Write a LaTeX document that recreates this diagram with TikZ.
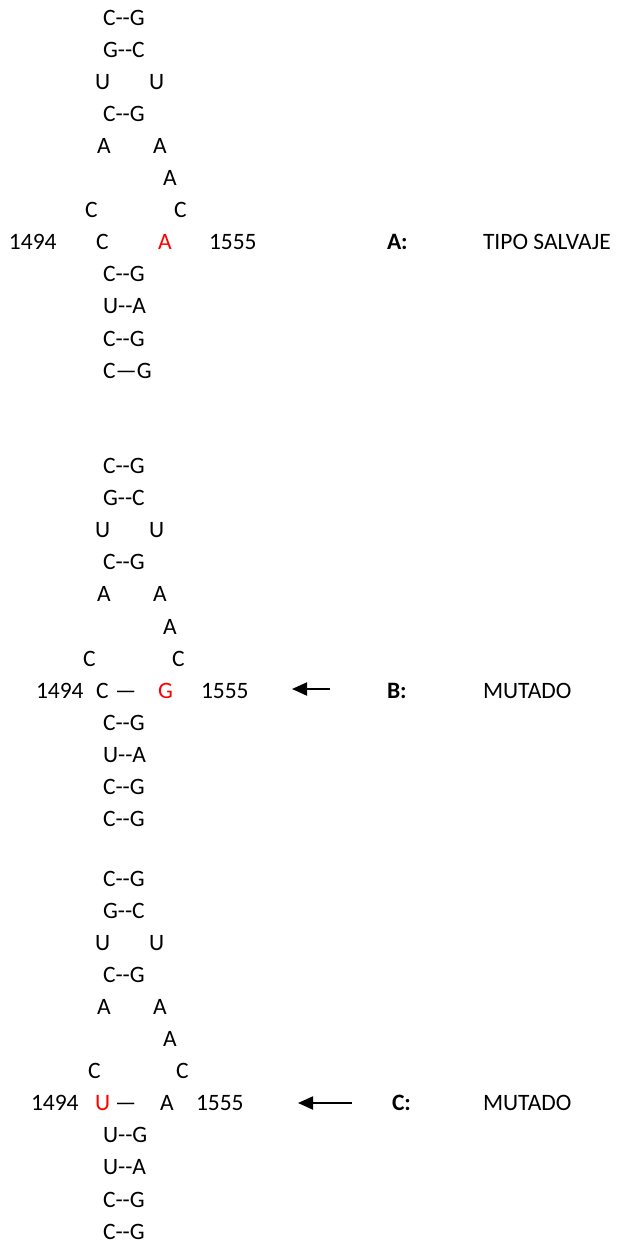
\documentclass[tikz,border=0pt]{standalone}
\usepackage{fontspec}
\setmainfont{Carlito}
\usetikzlibrary{arrows.meta}
\definecolor{mutred}{RGB}{255,0,0}
\tikzset{
  nt/.style={anchor=base west, inner sep=0pt, outer sep=0pt,
             font=\fontsize{23.5}{28}\selectfont},
  mut/.style={nt, text=mutred},
  tag/.style={nt, font=\fontsize{23.5}{28}\selectfont\bfseries},
  pointer/.style={line width=1.9pt, -{Triangle[length=15pt,width=13pt]}},
}
% base pair written with two plain hyphens
\newcommand\bp[2]{#1-\kern0pt-#2}
% upper part of the hairpin (rows 0-6); #1 name prefix, #2/#3 x of the C C row
\newcommand\loopTop[3]{%
  \node[nt] (#1r0)  at (103,0) {\bp{C}{G}};
  \node[nt] (#1r1)  at (103,1) {\bp{G}{C}};
  \node[nt] (#1r2a) at (95,2)  {U};
  \node[nt] (#1r2b) at (149,2) {U};
  \node[nt] (#1r3)  at (103,3) {\bp{C}{G}};
  \node[nt] (#1r4a) at (97,4)  {A};
  \node[nt] (#1r4b) at (153,4) {A};
  \node[nt] (#1r5)  at (163,5) {A};
  \node[nt] (#1r6a) at (#2,6)  {C};
  \node[nt] (#1r6b) at (#3,6)  {C};
}
\begin{document}
\begin{tikzpicture}[x=1pt,y=1pt]
\useasboundingbox (0,0) rectangle (618,-1242);

% A: wild type
\begin{scope}[y=-32.1pt, yshift=-25pt]
  \loopTop{a}{85}{174}
  \node[nt]  (a1494) at (9,7)   {1494};
  \node[nt]  (a7l)   at (96,7)  {C};
  \node[mut] (a7r)   at (158,7) {A};
  \node[nt]  (a1555) at (209,7) {1555};
  \node[tag] (atag)  at (387,7) {A:};
  \node[nt]  (alab)  at (483,7) {TIPO SALVAJE};
  \node[nt] (a8)  at (103,8)  {\bp{C}{G}};
  \node[nt] (a9)  at (103,9)  {\bp{U}{A}};
  \node[nt] (a10) at (103,10) {\bp{C}{G}};
  \node[nt] (a11) at (103,11) {C—G};
\end{scope}

% B: mutant G
\begin{scope}[y=-32.1pt, yshift=-473.5pt]
  \loopTop{b}{83}{172}
  \node[nt]  (b1494) at (36,7)  {1494};
  \node[nt]  (b7l)   at (96,7)  {C};
  \node[nt]  (b7d)   at (115,7) {—};
  \node[mut] (b7r)   at (158,7) {G};
  \node[nt]  (b1555) at (201,7) {1555};
  \node[tag] (btag)  at (387,7) {B:};
  \node[nt]  (blab)  at (483,7) {MUTADO};
  \node[nt] (b8)  at (103,8)  {\bp{C}{G}};
  \node[nt] (b9)  at (103,9)  {\bp{U}{A}};
  \node[nt] (b10) at (103,10) {\bp{C}{G}};
  \node[nt] (b11) at (103,11) {\bp{C}{G}};
\end{scope}

% C: mutant U
\begin{scope}[y=-32.1pt, yshift=-886pt]
  \loopTop{c}{88}{176}
  \node[nt]  (c1494) at (31,7)  {1494};
  \node[mut] (c7l)   at (95,7)  {U};
  \node[nt]  (c7d)   at (115,7) {—};
  \node[nt]  (c7r)   at (160,7) {A};
  \node[nt]  (c1555) at (196,7) {1555};
  \node[tag] (ctag)  at (392,7) {C:};
  \node[nt]  (clab)  at (483,7) {MUTADO};
  \node[nt] (c8)  at (103,8)  {\bp{U}{G}};
  \node[nt] (c9)  at (103,9)  {\bp{U}{A}};
  \node[nt] (c10) at (103,10) {\bp{C}{G}};
  \node[nt] (c11) at (103,11) {\bp{C}{G}};
\end{scope}

% pointers to the mutated positions
\coordinate (bArrowTail) at (330,-689);
\coordinate (bArrowHead) at (292,-689);
\coordinate (cArrowTail) at (352,-1103);
\coordinate (cArrowHead) at (298,-1103);
\draw[pointer] (bArrowTail) -- (bArrowHead);
\draw[pointer] (cArrowTail) -- (cArrowHead);
\end{tikzpicture}
\end{document}
